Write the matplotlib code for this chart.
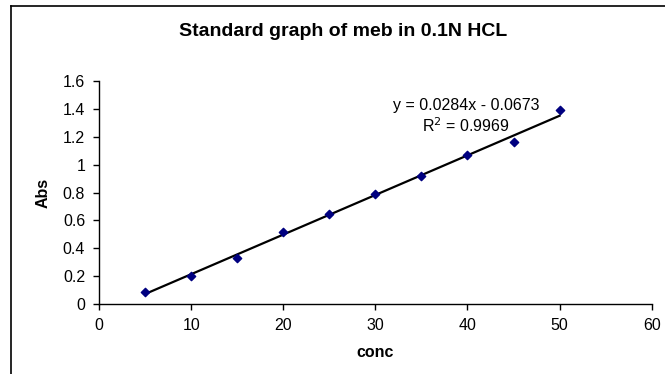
import numpy as np
import matplotlib.pyplot as plt
from matplotlib.lines import Line2D

plt.rcParams['font.family'] = ['Liberation Sans', 'DejaVu Sans']

# concentration vs absorbance readings
conc = [5, 10, 15, 20, 25, 30, 35, 40, 45, 50]
absorb = [0.09, 0.20, 0.33, 0.52, 0.65, 0.79, 0.92, 1.07, 1.16, 1.39]
x_ticks = [0, 10, 20, 30, 40, 50, 60]
y_ticks = [0, 0.2, 0.4, 0.6, 0.8, 1, 1.2, 1.4, 1.6]
y_tick_lbls = ['0', '0.2', '0.4', '0.6', '0.8', '1', '1.2', '1.4', '1.6']
eq_text = 'y = 0.0284x - 0.0673\nR$^2$ = 0.9969'

fig = plt.figure(figsize=(6.65, 3.74), dpi=100)
ax = fig.add_axes([0.149, 0.187, 0.831, 0.596])

# linear trendline through the points
slope, icpt = np.polyfit(conc, absorb, 1)
xs = np.array([min(conc), max(conc)])
ax.plot(xs, slope * xs + icpt, color='black', linewidth=1.6, zorder=2)
ax.scatter(conc, absorb, marker='D', s=18, color='#000080', zorder=3)

ax.set_xlim(0, 60)
ax.set_ylim(0, 1.6)
ax.set_xticks(x_ticks)
ax.set_yticks(y_ticks)
ax.set_yticklabels(y_tick_lbls)
ax.tick_params(direction='out', length=4, width=1, labelsize=11.5, pad=6)
for s in ['top', 'right']:
    ax.spines[s].set_visible(False)
for s in ['left', 'bottom']:
    ax.spines[s].set_linewidth(1)

ax.set_xlabel('conc', fontsize=11.5, fontweight='bold', labelpad=9)
ax.set_ylabel('Abs', fontsize=11.5, fontweight='bold', labelpad=9)
fig.text(0.516, 0.917, 'Standard graph of meb in 0.1N HCL', ha='center', va='center',
         fontsize=14, fontweight='bold')

ax.text(0.664, 0.843, eq_text, transform=ax.transAxes, ha='center', va='center',
        fontsize=11.5, linespacing=1.2)

# chart area border (partly cut off at right/bottom)
fig.add_artist(Line2D([0.016, 0.016], [0, 0.984], color='black', linewidth=1.2,
                      transform=fig.transFigure))
fig.add_artist(Line2D([0.016, 1.0], [0.984, 0.984], color='black', linewidth=1.2,
                      transform=fig.transFigure))

fig.savefig('out.png', dpi=100)
